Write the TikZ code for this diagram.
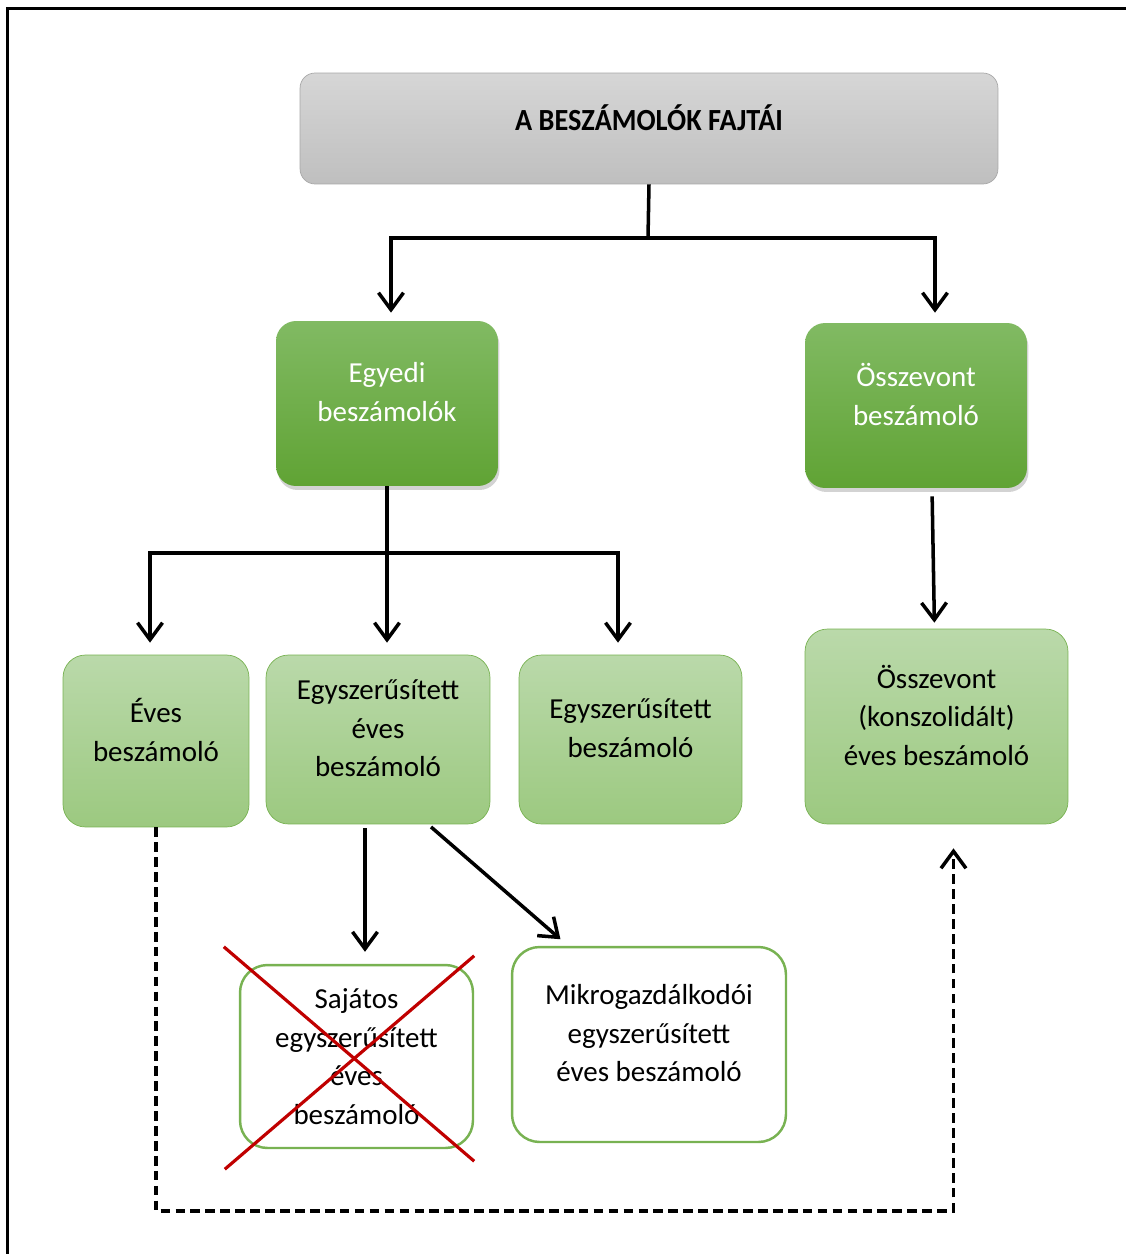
\documentclass[tikz,border=0pt]{standalone}
\usepackage{fontspec}
\setmainfont{Carlito}
\usepackage{tikz}
\usetikzlibrary{positioning, arrows.meta, shadows}
\definecolor{titletop}{RGB}{214,214,214}
\definecolor{titlebottom}{RGB}{191,191,191}
\definecolor{titleline}{RGB}{168,168,168}
\definecolor{darktop}{RGB}{129,186,99}
\definecolor{darkbottom}{RGB}{96,163,52}
\definecolor{lighttop}{RGB}{186,217,170}
\definecolor{lightbottom}{RGB}{156,201,128}
\definecolor{greenline}{RGB}{120,178,82}
\definecolor{crossred}{RGB}{192,0,0}

\begin{document}
\begin{tikzpicture}[
    x=0.02cm, y=-0.02cm,
    every node/.style={font=\fontsize{16.5}{22}\selectfont},
    titlebox/.style={
        rectangle,
        rounded corners=0.3cm,
        draw=titleline,
        thin,
        top color=titletop,
        bottom color=titlebottom,
        minimum width=13.96cm,
        minimum height=2.22cm,
        text depth=0.45cm,
        font=\fontsize{17.5}{22}\selectfont\bfseries
    },
    groupbox/.style={
        rectangle,
        rounded corners=0.4cm,
        top color=darktop,
        bottom color=darkbottom,
        text=white,
        align=center,
        minimum width=4.44cm,
        minimum height=3.3cm,
        text depth=0.45cm,
        drop shadow={shadow xshift=0.03cm, shadow yshift=-0.08cm, opacity=0.35}
    },
    kindbox/.style={
        rectangle,
        rounded corners=0.45cm,
        draw=greenline,
        thin,
        top color=lighttop,
        bottom color=lightbottom,
        align=center,
        minimum height=3.4cm,
        text depth=0.45cm
    },
    plainbox/.style={
        rectangle,
        rounded corners=0.55cm,
        draw=greenline,
        line width=1.4pt,
        fill=white,
        align=center
    },
    line/.style={line width=2pt},
    arrow/.style={-{Straight Barb[length=3.4mm, width=5mm, line width=2pt]}, line width=2pt},
    dasharrow/.style={arrow, dash pattern=on 5.5pt off 3pt},
    crossline/.style={draw=crossred, line width=1.8pt}
]
\useasboundingbox (0,0) rectangle (1126,1254);

% frame
\draw[line width=2pt] (7.5,1254) -- (7.5,8.5) -- (1126,8.5);

% boxes
\node[titlebox] (title) at (649,128.5) {\scalebox{0.92}[1]{A BESZÁMOLÓK FAJTÁI}};

\node[groupbox] (egyedi) at (387,403.5) {Egyedi\\beszámolók};
\node[groupbox] (osszevont) at (916,405.5) {Összevont\\beszámoló};

\node[kindbox, minimum width=3.72cm, minimum height=3.44cm] (eves) at (156,741) {Éves\\beszámoló};
\node[kindbox, minimum width=4.48cm, minimum height=3.38cm] (egyszeves) at (378,739.5) {Egyszerűsített\\éves\\beszámoló};
\node[kindbox, minimum width=4.46cm, minimum height=3.38cm] (egyszbesz) at (630.5,739.5) {Egyszerűsített\\beszámoló};
\node[kindbox, minimum width=5.26cm, minimum height=3.9cm] (konszol) at (936.5,726.5) {Összevont\\(konszolidált)\\éves beszámoló};

\node[plainbox, minimum width=4.66cm, minimum height=3.66cm] (sajatos) at (356.5,1056.5) {Sajátos\\egyszerűsített\\éves\\beszámoló};
\node[plainbox, minimum width=5.48cm, minimum height=3.9cm, text depth=0.45cm] (mikro) at (649,1044.5) {Mikrogazdálkodói\\egyszerűsített\\éves beszámoló};

% crossing out
\draw[crossline] ([shift={(-15,-17)}]sajatos.north west) -- ([shift={(0,12)}]sajatos.south east);
\draw[crossline] ([shift={(0,-8)}]sajatos.north east) -- ([shift={(-14,20)}]sajatos.south west);

% connectors
\coordinate (split1) at (648,238);
\coordinate (split2) at (386,553);
\coordinate (dashbase) at (0,1211);

\draw[line] (title.south) -- (split1);
\draw[arrow, shorten >=0.16cm] (split1) -| ([xshift=0.08cm]egyedi.north);
\draw[arrow, shorten >=0.2cm] (split1) -| ([xshift=0.38cm]osszevont.north);

\draw[arrow, shorten >=0.24cm] (egyedi.south) -- (egyedi.south |- egyszeves.north);
\draw[arrow, shorten >=0.24cm] (split2) -| ([xshift=-0.12cm]eves.north);
\draw[arrow, shorten >=0.24cm] (split2) -| ([xshift=-0.25cm]egyszbesz.north);

\draw[arrow, shorten <=0.16cm, shorten >=0.12cm] ([xshift=0.32cm]osszevont.south) -- ([xshift=-0.04cm]konszol.north);

\draw[arrow, shorten <=0.08cm, shorten >=0.24cm] ([xshift=-0.26cm]egyszeves.south) -- ([xshift=-0.26cm]egyszeves.south |- sajatos.north);
\draw[arrow, shorten <=0.08cm, shorten >=0.2cm] ([xshift=1cm]egyszeves.south) -- ([xshift=-1.62cm]mikro.north);

\draw[dasharrow, shorten >=0.48cm] (eves.south) -- (eves.south |- dashbase) -| ([xshift=0.34cm]konszol.south);

\end{tikzpicture}
\end{document}
